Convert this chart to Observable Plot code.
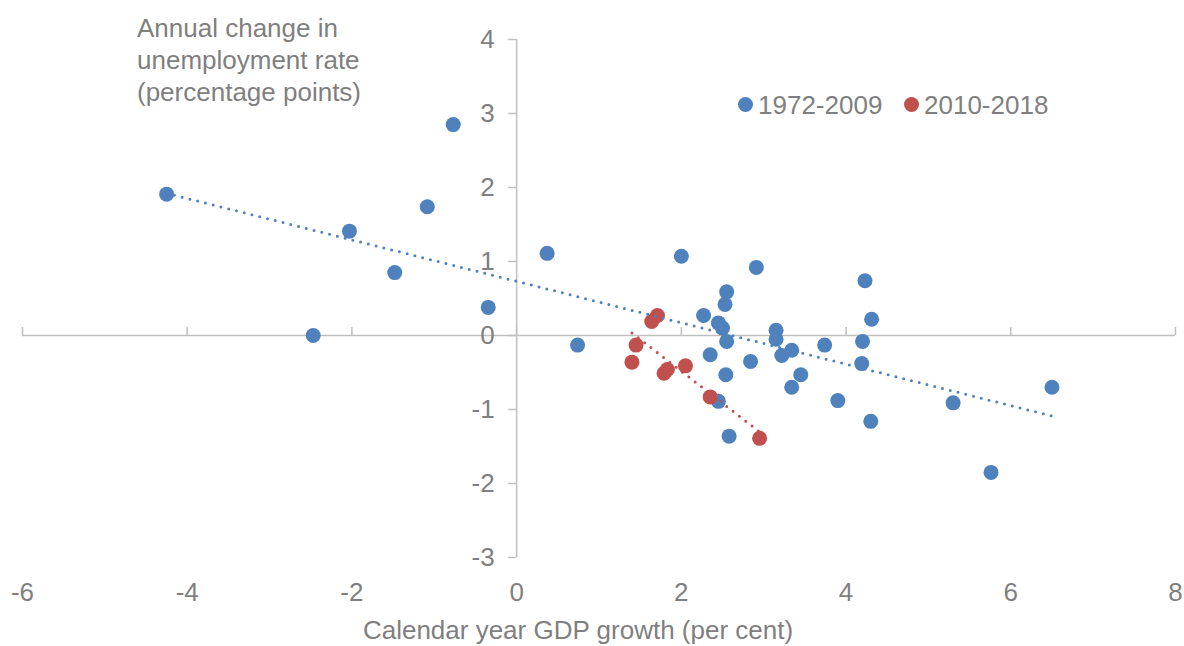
<!DOCTYPE html>
<html><head><meta charset="utf-8">
<script src="https://cdn.jsdelivr.net/npm/d3@7"></script>
<script src="https://cdn.jsdelivr.net/npm/@observablehq/plot@0.6"></script>
<style>
body{margin:0;background:#fff;font-family:"Liberation Sans",Arial,sans-serif;}
#wrap{position:relative;width:1184px;height:646px;overflow:hidden;}
.t{position:absolute;font-size:26px;line-height:30px;color:#7f7f7f;white-space:nowrap;}
.ytitle{left:137px;top:12px;line-height:32px;}
.xtitle{left:578px;top:615px;transform:translateX(-50%);}
.leg{position:absolute;top:90px;font-size:26px;line-height:30px;color:#7f7f7f;white-space:nowrap;}
.sw{position:absolute;width:15px;height:15px;border-radius:50%;}
</style></head>
<body>
<div id="wrap">
  <div id="chart"></div>
  <div class="t ytitle">Annual change in<br>unemployment rate<br>(percentage points)</div>
  <div class="t xtitle">Calendar year GDP growth (per cent)</div>
  <div class="sw" style="left:738px;top:97px;background:#4f81bd"></div>
  <div class="leg" style="left:758px">1972-2009</div>
  <div class="sw" style="left:904px;top:97px;background:#c0504d"></div>
  <div class="leg" style="left:924px">2010-2018</div>
</div>
<script>
const blueX = [-4.25,-2.47,-2.03,-1.48,-1.085,-0.77,-0.345,0.37,0.74,2.0,2.27,2.35,2.45,2.50,2.53,2.55,2.55,2.54,2.45,2.58,2.84,2.91,3.15,3.15,3.22,3.34,3.34,3.45,3.74,3.90,4.20,4.19,4.23,4.31,4.30,5.30,5.76,6.50];
const blueY = [1.91,0.0,1.41,0.85,1.74,2.85,0.38,1.11,-0.13,1.07,0.27,-0.26,0.17,0.10,0.42,0.59,-0.08,-0.53,-0.89,-1.36,-0.35,0.92,0.07,-0.05,-0.27,-0.20,-0.70,-0.53,-0.13,-0.88,-0.08,-0.38,0.74,0.22,-1.16,-0.91,-1.85,-0.70];
const redX = [1.71,1.64,1.45,1.40,1.83,1.79,2.05,2.35,2.95];
const redY = [0.27,0.19,-0.13,-0.36,-0.46,-0.51,-0.41,-0.83,-1.39];
const xTicks = [-6,-4,-2,0,2,4,6,8];
const yTicks = [-3,-2,-1,0,1,2,3,4];

const blue = blueX.map((x,i)=>({x, y: blueY[i]}));
const red = redX.map((x,i)=>({x, y: redY[i]}));

const gray = "#7f7f7f", axisGray = "#bfbfbf";
const chart = Plot.plot({
  width: 1184, height: 646,
  marginLeft: 22, marginRight: 9, marginTop: 39, marginBottom: 89,
  style: {fontFamily: '"Liberation Sans", Arial, sans-serif', fontSize: "26px", color: gray, background: "white"},
  x: {domain: [-6, 8], axis: null},
  y: {domain: [-3, 4], axis: null},
  marks: [
    Plot.axisX(xTicks, {tickSize: 0, tickPadding: 25, label: null, tickFormat: d => String(d), fill: gray, fontSize: 26}),
    Plot.ruleY([0], {x1: -6, x2: 8, stroke: axisGray, strokeWidth: 1.5}),
    Plot.ruleX([0], {y1: -3, y2: 4, stroke: axisGray, strokeWidth: 1.5}),
    Plot.ruleX(xTicks, {x: d => d, y1: 0, y2: 0, insetTop: -8, stroke: axisGray, strokeWidth: 1.5}),
    Plot.ruleY(yTicks, {y: d => d, x1: 0, x2: 0, insetLeft: -8, stroke: axisGray, strokeWidth: 1.5}),
    Plot.text(yTicks, {x: 0, y: d => d, text: d => String(d), textAnchor: "end", dx: -22, fill: gray, fontSize: 26}),
    Plot.dot(blue, {x: "x", y: "y", r: 7.5, fill: "#4f81bd", stroke: "none"}),
    Plot.dot(red, {x: "x", y: "y", r: 7.5, fill: "#c0504d", stroke: "none"}),
    Plot.linearRegressionY(blue, {x: "x", y: "y", ci: 0, stroke: "#4f81bd", strokeWidth: 3, strokeDasharray: "0 8", strokeLinecap: "round"}),
    Plot.linearRegressionY(red, {x: "x", y: "y", ci: 0, stroke: "#c0504d", strokeWidth: 3, strokeDasharray: "0 8", strokeLinecap: "round"})
  ]
});
document.getElementById("chart").appendChild(chart);
</script>
</body></html>
